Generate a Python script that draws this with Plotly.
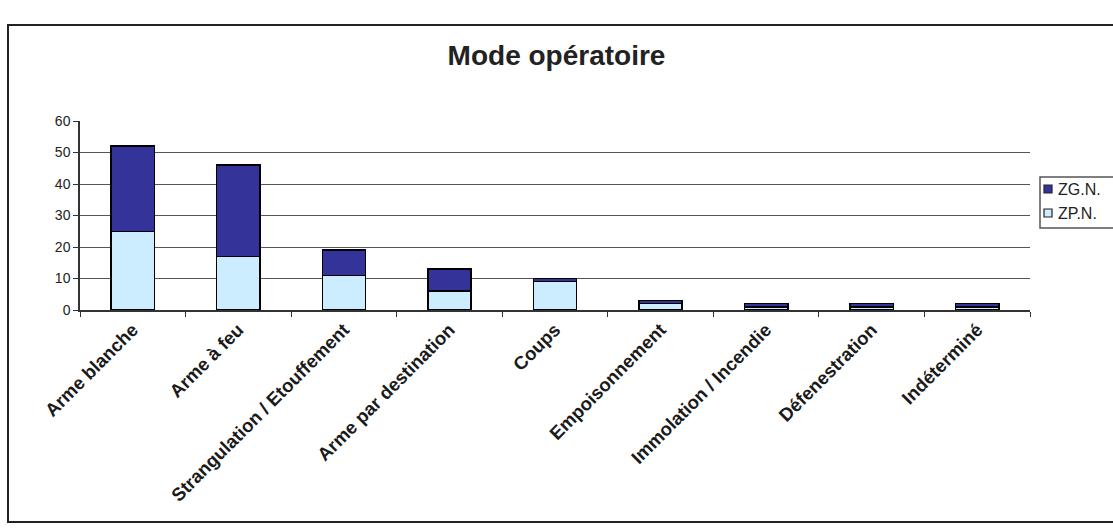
import plotly.graph_objects as go

categories = ["Arme blanche", "Arme à feu", "Strangulation / Etouffement",
              "Arme par destination", "Coups", "Empoisonnement",
              "Immolation / Incendie", "Défenestration", "Indéterminé"]
zpn = [25, 17, 11, 6, 9, 2, 1, 1, 1]
zgn = [27, 29, 8, 7, 1, 1, 1, 1, 1]
series_names = ["ZP.N.", "ZG.N."]
series_colors = ["#CCECFF", "#333399"]
y_ticks = [0, 10, 20, 30, 40, 50, 60]

W, H = 1113, 528
L, R, T, B = 80, 83, 121, 218
pw = W - L - R
ph = H - T - B


def px_x(p):
    return (p - L) / pw


def px_y(p):
    return (H - B - p) / ph


fig = go.Figure()
fig.add_trace(go.Bar(x=categories, y=zpn, name=series_names[0], showlegend=False,
                     marker=dict(color=series_colors[0], line=dict(color="#000000", width=1.5))))
fig.add_trace(go.Bar(x=categories, y=zgn, name=series_names[1], showlegend=False,
                     marker=dict(color=series_colors[1], line=dict(color="#000000", width=1.5))))

# legend drawn as a box partially cut by the page edge, as in the reference
shapes = [
    dict(type="rect", xref="paper", yref="paper",
         x0=px_x(8), x1=px_x(1125), y0=px_y(522), y1=px_y(25),
         line=dict(color="#222222", width=2), layer="below"),
    dict(type="rect", xref="paper", yref="paper",
         x0=px_x(1040), x1=px_x(1125), y0=px_y(228), y1=px_y(177),
         line=dict(color="#555555", width=1.5), fillcolor="white"),
]
annotations = []
legend_items = [(series_names[1], series_colors[1], 189), (series_names[0], series_colors[0], 213)]
for name, col, yc in legend_items:
    shapes.append(dict(type="rect", xref="paper", yref="paper",
                       x0=px_x(1044), x1=px_x(1052), y0=px_y(yc + 4), y1=px_y(yc - 4),
                       line=dict(color="#222222", width=1.2), fillcolor=col))
    annotations.append(dict(xref="paper", yref="paper", x=px_x(1056), y=px_y(yc),
                            xanchor="left", yanchor="middle", showarrow=False,
                            text=name, font=dict(size=16, color="#222222")))

fig.update_layout(
    width=W, height=H,
    barmode="stack", bargap=0.59,
    margin=dict(l=L, r=R, t=T, b=B),
    paper_bgcolor="white", plot_bgcolor="white",
    font=dict(family="Liberation Sans, Arial, sans-serif", color="#111111", size=12),
    title=dict(text="<b>Mode opératoire</b>", x=0.5, xanchor="center",
               y=1 - 55 / H, yanchor="middle",
               font=dict(size=28, color="#222222")),
    xaxis=dict(type="category", tickangle=-45, tickson="boundaries",
               ticks="outside", ticklen=5, tickcolor="#333", automargin=False,
               showline=True, linecolor="#333333", linewidth=1.5,
               tickfont=dict(size=18.5, color="#1a1a1a", weight="bold"), showgrid=False),
    yaxis=dict(range=[0, 60], tickvals=y_ticks, ticks="outside", ticklen=5,
               tickcolor="#333", showline=True, linecolor="#333333", linewidth=1.5,
               showgrid=True, gridcolor="#555555", gridwidth=1.2, automargin=False,
               tickfont=dict(size=14, color="#222222"), zeroline=False),
    showlegend=False,
    shapes=shapes,
    annotations=annotations,
)

fig.write_html("out.html")
